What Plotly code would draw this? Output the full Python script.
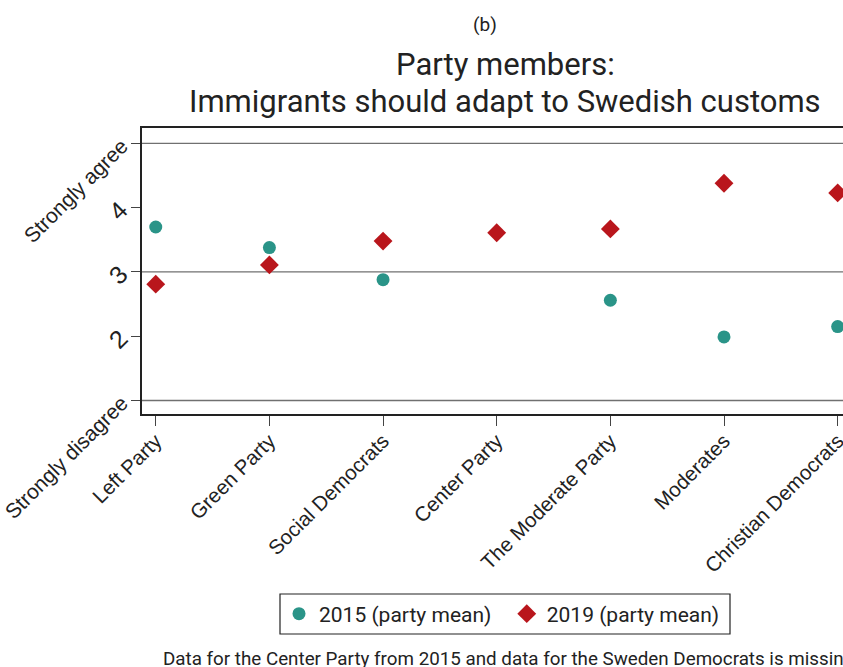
import plotly.graph_objects as go

parties = ["Left Party", "Green Party", "Social Democrats", "Center Party",
           "The Moderate Party", "Moderates", "Christian Democrats"]
mean_2015 = [3.70, 3.38, 2.88, None, 2.56, 1.99, 2.15]
mean_2019 = [2.81, 3.11, 3.48, 3.61, 3.67, 4.38, 4.23]

y_tickvals = [1, 2, 3, 4, 5]
y_ticktext = ["Strongly disagree", "2", "3", "4", "Strongly agree"]
grid_levels = [1, 3, 5]

TEAL = "#2a9488"
RED = "#b9161c"
DARK = "#222222"

L, R, T, B = 142, 0, 128, 253
W, H = 843, 667
PW, PH = W - L - R, H - T - B


def px(x):
    return (x - L) / PW


def py(y):
    return (H - B - y) / PH


NB = "\u00a0"

fig = go.Figure()
fig.add_trace(go.Scatter(
    x=parties, y=mean_2015, mode="markers", name="2015 (party mean)" + NB * 2,
    marker=dict(symbol="circle", size=13, color=TEAL), cliponaxis=False))
fig.add_trace(go.Scatter(
    x=parties, y=mean_2019, mode="markers", name="2019 (party mean)",
    marker=dict(symbol="diamond", size=14.5, color=RED), cliponaxis=False))

for g in grid_levels:
    fig.add_shape(type="line", xref="paper", x0=0, x1=1, yref="y", y0=g, y1=g,
                  line=dict(color="#707070", width=1.3), layer="below")

# legend frame
fig.add_shape(type="rect", xref="paper", yref="paper",
              x0=px(280), x1=px(730), y0=py(634), y1=py(594),
              line=dict(color="#222222", width=1.2), fillcolor="rgba(0,0,0,0)")


def big(t):
    return t if len(t) > 1 else f'<span style="font-size:25px">{t}</span>'


fig.update_layout(
    width=W, height=H, autosize=False,
    margin=dict(l=L, r=R, t=T, b=B, autoexpand=False),
    paper_bgcolor="white", plot_bgcolor="white",
    font=dict(family="Liberation Sans, Arial", color="#222222"),
    showlegend=True,
    legend=dict(orientation="h", xref="paper", yref="paper",
                x=px(502), xanchor="center", y=py(614), yanchor="middle",
                borderwidth=0, bgcolor="rgba(0,0,0,0)",
                font=dict(family="Roboto", size=21, color="#222222"),
                itemwidth=30),
    xaxis=dict(type="category", range=[-0.121, 6.047], showgrid=False,
               showline=True, linecolor=DARK, linewidth=2, mirror=True,
               ticks="outside", ticklen=10, tickcolor="#444", tickwidth=1.2,
               ticklabelstandoff=-5,
               tickangle=-45, tickfont=dict(size=20.5, color="#222222"),
               zeroline=False),
    yaxis=dict(range=[0.79, 5.24], tickvals=y_tickvals,
               ticktext=[big(t) for t in y_ticktext], showgrid=False,
               showline=True, linecolor=DARK, linewidth=2, mirror=False,
               ticks="outside", ticklen=9, tickcolor="#444", tickwidth=1.2,
               ticklabelstandoff=5,
               tickangle=-45, tickfont=dict(size=21, color="#222222"),
               zeroline=False),
)

fig.add_annotation(text="(b)", xref="paper", yref="paper", x=px(485), y=py(25),
                   xanchor="center", yanchor="middle",
                   showarrow=False, font=dict(family="Roboto", size=19))
fig.add_annotation(text="Party members:", xref="paper", yref="paper",
                   x=px(505), y=py(64), xanchor="center", yanchor="middle",
                   showarrow=False, font=dict(family="Roboto", size=31))
fig.add_annotation(text="Immigrants should adapt to Swedish customs",
                   xref="paper", yref="paper",
                   x=px(505), y=py(101), xanchor="center", yanchor="middle",
                   showarrow=False, font=dict(family="Roboto", size=31))
fig.add_annotation(text="Data for the Center Party from 2015 and data for the Sweden Democrats is missing",
                   xref="paper", yref="paper",
                   x=px(161), y=py(659), xanchor="left", yanchor="middle",
                   showarrow=False, font=dict(family="Roboto", size=18.8))

fig.write_html("out.html", config={"displayModeBar": False},
               post_script="document.body.style.margin='0';")
